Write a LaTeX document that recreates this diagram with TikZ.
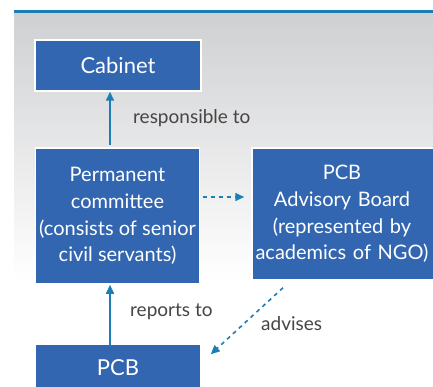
\documentclass[tikz,border=0pt]{standalone}
\usepackage{fontspec}
\setmainfont{Lato}
\usetikzlibrary{arrows.meta}
\definecolor{boxblue}{HTML}{3366B0}
\definecolor{arrowblue}{HTML}{1B7FB6}
\definecolor{labelgray}{HTML}{454545}
\definecolor{panelgray}{HTML}{CFD0D2}
\tikzset{
  box/.style={draw=white, line width=1.5pt, fill=boxblue, text=white,
    align=center, inner sep=0pt, font=\fontsize{20}{26.7}\selectfont},
  bigbox/.style={box, font=\fontsize{22}{26}\selectfont},
  link/.style={draw=arrowblue, line width=1.6pt,
    -{Triangle[length=9pt,width=8pt]}},
  dlink/.style={link, dash pattern=on 4pt off 4pt},
  lbl/.style={text=labelgray, font=\fontsize{19}{22}\selectfont,
    anchor=west, inner sep=0pt}
}
\begin{document}
\begin{tikzpicture}[x=1pt,y=-1pt]
  \useasboundingbox (0,0) rectangle (433,387);
  % header rule and shaded panel
  \shade[top color=panelgray, bottom color=white] (14,13) rectangle (440,280);
  \fill[arrowblue] (14,10.5) rectangle (440,13);

  % boxes
  \node[bigbox, minimum width=166pt, minimum height=51pt] (cab) at (118,65.5) {Cabinet};
  \node[box, minimum width=164pt, minimum height=136pt] (perm) at (117.5,216)
    {Permanent\\committee\\(consists of senior\\civil servants)};
  \node[box, minimum width=184pt, minimum height=132pt, text width=184pt] (adv) at (344,214)
    {\hspace*{-4pt}PCB\\\hspace*{-4pt}Advisory Board\\\hspace*{-4pt}(represented by\\\hspace*{-4pt}academics of NGO)};
  \node[bigbox, minimum width=166pt, minimum height=48pt] (pcb) at (118,368) {PCB};

  % connectors
  \draw[link] ([xshift=-7.5pt,yshift=2pt]perm.north) -- ([xshift=-8pt]cab.south);
  \draw[link] ([xshift=-8pt,yshift=-3pt]pcb.north) -- ([xshift=-7.5pt]perm.south);
  \draw[dlink] ([xshift=3pt,yshift=19pt]perm.east) -- ([xshift=-7pt,yshift=17pt]adv.west);
  \draw[dlink] ([xshift=-61pt,yshift=-7pt]adv.south) -- ([xshift=9pt,yshift=-11pt]pcb.north east);

  % connector labels
  \node[lbl] (l1) at (133,118) {responsible to};
  \node[lbl] (l2) at (130,312) {reports to};
  \node[lbl] (l3) at (261,324) {advises};
\end{tikzpicture}
\end{document}
